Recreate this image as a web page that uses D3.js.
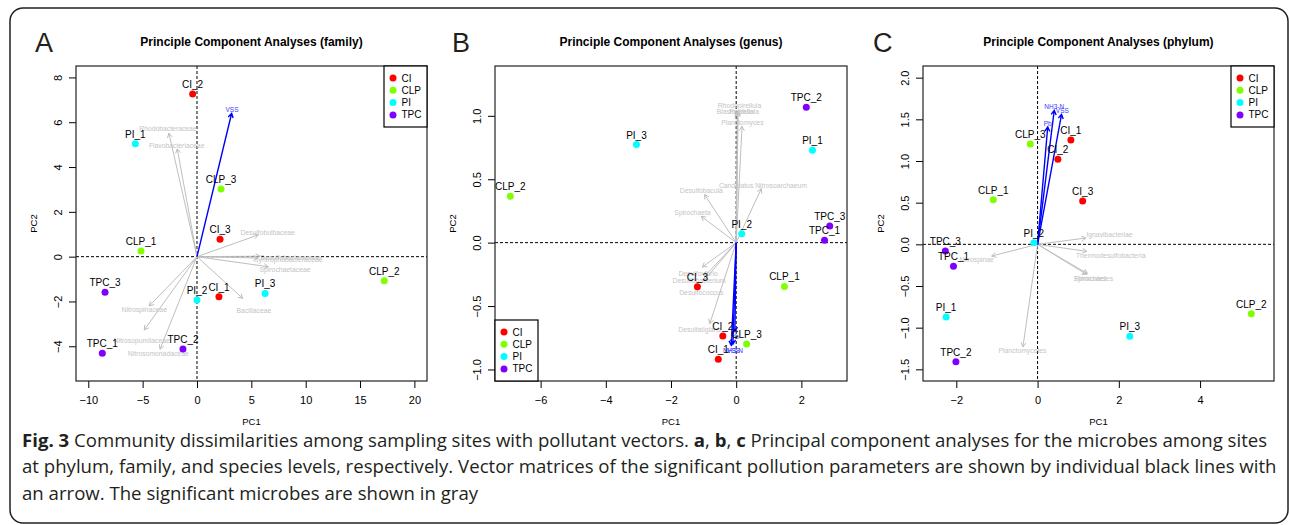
<!DOCTYPE html>
<html>
<head>
<meta charset="utf-8">
<script src="https://cdn.jsdelivr.net/npm/d3@7"></script>
<style>
body { margin: 0; background: #fff; }
svg { display: block; font-family: "Liberation Sans", Arial, Helvetica, sans-serif; }
</style>
</head>
<body>
<svg id="fig" width="1290" height="525"></svg>
<script>
/* groups, colours = rainbow(4) */
const groups = ["CI", "CLP", "PI", "TPC"];
const groupColors = ["#FF0000", "#80FF00", "#00FFFF", "#8000FF"];

/* A - family : [site, PC1, PC2] */
const famSites = [
	["CI_1", 2.02, -1.79], ["CI_2", -0.40, 7.26], ["CI_3", 2.12, 0.78],
	["CLP_1", -5.15, 0.25], ["CLP_2", 17.23, -1.07], ["CLP_3", 2.21, 3.02],
	["PI_1", -5.67, 5.04], ["PI_2", 0.0, -1.93], ["PI_3", 6.26, -1.64],
	["TPC_1", -8.71, -4.31], ["TPC_2", -1.29, -4.12], ["TPC_3", -8.46, -1.59]
];
/* [name, tipX, tipY, labelX, labelY] */
const famMicrobes = [
	["Rhodobacteraceae", -2.58, 5.51, -2.67, 5.70],
	["Flavobacteriaceae", -1.81, 4.81, -1.87, 4.97],
	["Desulfobulbaceae", 5.64, 0.97, 6.50, 1.09],
	["Desulfobacteraceae", 5.80, 0.02, 8.60, -0.05],
	["Syntrophobacteraceae", 5.60, -0.06, 8.40, -0.12],
	["Spirochaetaceae", 6.56, -0.45, 8.10, -0.59],
	["Bacillaceae", 4.20, -1.86, 5.24, -2.42],
	["Nitrospinaceae", -4.39, -2.20, -4.85, -2.35],
	["Nitrosopumilaceae", -4.85, -3.27, -5.09, -3.76],
	["Nitrosomonadaceae", -3.40, -4.13, -3.56, -4.34]
];
const famPollutants = [["VSS", 3.19, 6.40, 3.22, 6.55]];
const famXTicks = [-10, -5, 0, 5, 10, 15, 20];
const famYTicks = [-4, -2, 0, 2, 4, 6, 8];

/* B - genus */
const genSites = [
	["CI_1", -0.55, -0.92], ["CI_2", -0.41, -0.737], ["CI_3", -1.19, -0.347],
	["CLP_1", 1.48, -0.345], ["CLP_2", -6.93, 0.365], ["CLP_3", 0.32, -0.80],
	["PI_1", 2.34, 0.728], ["PI_2", 0.17, 0.071], ["PI_3", -3.06, 0.773],
	["TPC_1", 2.71, 0.018], ["TPC_2", 2.15, 1.067], ["TPC_3", 2.87, 0.131]
];
const genMicrobes = [
	["Rhodopirellula", 0.06, 1.04, 0.10, 1.08],
	["Blastopirellula", 0.03, 1.03, 0.05, 1.035],
	["Pirellula", 0.05, 1.03, 0.16, 1.035],
	["Planctomyces", 0.18, 0.917, 0.19, 0.946],
	["Candidatus Nitrosoarchaeum", 0.77, 0.426, 0.82, 0.446],
	["Desulfobacula", -0.97, 0.379, -1.07, 0.407],
	["Spirochaeta", -1.07, 0.207, -1.34, 0.233],
	["Desulfovibrio", -1.04, -0.192, -1.17, -0.245],
	["Desulfobacterium", -0.97, -0.266, -1.14, -0.297],
	["Desulfococcus", -0.99, -0.300, -1.07, -0.394],
	["Desulfatiglans", -0.81, -0.639, -1.12, -0.686]
];
const genPollutants = [
	["NH3-N", -0.15, -0.81, -0.10, -0.85],
	["VSS", -0.10, -0.80, -0.08, -0.85],
	["Pb", -0.04, -0.70, -0.05, -0.74]
];
const genXTicks = [-6, -4, -2, 0, 2];
const genYTicks = [-1.0, -0.5, 0.0, 0.5, 1.0];

/* C - phylum */
const phySites = [
	["CI_1", 0.82, 1.252], ["CI_2", 0.50, 1.02], ["CI_3", 1.11, 0.52],
	["CLP_1", -1.09, 0.536], ["CLP_2", 5.26, -0.832], ["CLP_3", -0.18, 1.204],
	["PI_1", -2.25, -0.872], ["PI_2", -0.09, 0.02], ["PI_3", 2.27, -1.104],
	["TPC_1", -2.07, -0.264], ["TPC_2", -2.01, -1.408], ["TPC_3", -2.27, -0.08]
];
const phyMicrobes = [
	["Ignavibacteriae", 1.19, 0.076, 1.77, 0.116],
	["Thermodesulfobacteria", 1.21, -0.084, 1.80, -0.136],
	["Spirochaetes", 1.23, -0.352, 1.37, -0.412],
	["Firmicutes", 1.20, -0.36, 1.30, -0.412],
	["Nitrospinae", -1.13, -0.14, -1.50, -0.18],
	["Planctomycetes", -0.36, -1.232, -0.37, -1.27]
];
const phyPollutants = [
	["Pb", 0.25, 1.408, 0.25, 1.45],
	["NH3-N", 0.41, 1.608, 0.41, 1.648],
	["VSS", 0.59, 1.56, 0.61, 1.60]
];
const phyXTicks = [-2, 0, 2, 4];
const phyYTicks = [-1.5, -1.0, -0.5, 0.0, 0.5, 1.0, 1.5, 2.0];

const captionLines = [
	[["Fig. 3", true], [" Community dissimilarities among sampling sites with pollutant vectors. ", false], ["a", true], [", ", false], ["b", true], [", ", false], ["c", true], [" Principal component analyses for the microbes among sites", false]],
	[["at phylum, family, and species levels, respectively. Vector matrices of the significant pollution parameters are shown by individual black lines with", false]],
	[["an arrow. The significant microbes are shown in gray", false]]
];
const captionWidth = 1246;

const svg = d3.select("#fig");
const color = d3.scaleOrdinal().domain(groups).range(groupColors);
const minus = s => s.replace("-", "\u2212");

/* outer frame */
svg.append("rect").attr("x", 10).attr("y", 8).attr("width", 1278).attr("height", 515)
	.attr("rx", 13).attr("fill", "none").attr("stroke", "#231f20").attr("stroke-width", 1.5);

function arrow(g, x, y, d, stroke, width) {
	const x0 = x(0), y0 = y(0), x1 = x(d[1]), y1 = y(d[2]);
	const a = Math.atan2(y1 - y0, x1 - x0), L = 5, h = Math.PI / 6;
	g.append("path")
		.attr("d", `M${x0},${y0}L${x1},${y1}M${x1 - L * Math.cos(a - h)},${y1 - L * Math.sin(a - h)}L${x1},${y1}L${x1 - L * Math.cos(a + h)},${y1 - L * Math.sin(a + h)}`)
		.attr("fill", "none").attr("stroke", stroke).attr("stroke-width", width);
}

function panel(cfg) {
	const [L, T, R, B] = cfg.box;
	const x = d3.scaleLinear().domain(cfg.xDomain).range([L, R]);
	const y = d3.scaleLinear().domain(cfg.yDomain).range([B, T]);
	const g = svg.append("g");

	// axes
	const fmt = cfg.yFmt;
	g.append("g").attr("transform", `translate(0,${B})`)
		.call(d3.axisBottom(x).tickValues(cfg.xTicks).tickSize(7).tickFormat(d => minus(String(d))))
		.call(a => a.select(".domain").remove())
		.call(a => a.selectAll("text").attr("y", 23).attr("dy", 0).attr("font-size", 11).attr("fill", "#000").attr("font-family", null));
	g.append("g").attr("transform", `translate(${L},0)`)
		.call(d3.axisLeft(y).tickValues(cfg.yTicks).tickSize(7).tickFormat(d => minus(fmt(d))))
		.call(a => a.select(".domain").remove())
		.call(a => a.selectAll("text").attr("transform", "rotate(-90)").attr("x", 0).attr("y", -14).attr("dy", 0)
			.attr("text-anchor", "middle").attr("font-size", 11).attr("fill", "#000").attr("font-family", null));
	g.selectAll(".tick line").attr("stroke", "#000");

	// reference lines
	g.append("line").attr("x1", L).attr("x2", R).attr("y1", y(0)).attr("y2", y(0))
		.attr("stroke", "#000").attr("stroke-dasharray", "3,2");
	g.append("line").attr("x1", x(0)).attr("x2", x(0)).attr("y1", T).attr("y2", B)
		.attr("stroke", "#000").attr("stroke-dasharray", "3,2");

	// microbes (gray) and pollutants (blue)
	cfg.microbes.forEach(d => arrow(g, x, y, d, "#bebebe", 1));
	g.selectAll(".mlab").data(cfg.microbes).join("text").attr("class", "mlab")
		.attr("x", d => x(d[3])).attr("y", d => y(d[4])).attr("dy", "0.35em")
		.attr("text-anchor", "middle").attr("font-size", 6.8).attr("fill", "#c4c4c4").text(d => d[0]);
	cfg.pollutants.forEach(d => arrow(g, x, y, d, "#0000ff", 1.4));
	g.selectAll(".plab").data(cfg.pollutants).join("text").attr("class", "plab")
		.attr("x", d => x(d[3])).attr("y", d => y(d[4])).attr("dy", "0.35em")
		.attr("text-anchor", "middle").attr("font-size", 6.5).attr("fill", "#3a3aff").text(d => d[0]);

	// sites
	g.selectAll(".site").data(cfg.sites).join("circle").attr("class", "site")
		.attr("cx", d => x(d[1])).attr("cy", d => y(d[2])).attr("r", 3.5)
		.attr("fill", d => color(d[0].split("_")[0]));
	g.selectAll(".slab").data(cfg.sites).join("text").attr("class", "slab")
		.attr("x", d => x(d[1])).attr("y", d => y(d[2]) - 6)
		.attr("text-anchor", "middle").attr("font-size", 10).attr("fill", "#000").text(d => d[0]);

	// box
	g.append("rect").attr("x", L).attr("y", T).attr("width", R - L).attr("height", B - T)
		.attr("fill", "none").attr("stroke", "#222").attr("stroke-width", 1.2);

	// legend
	const lx = cfg.legendLeft ? L : R - 43;
	const ly = cfg.legendLeft ? B - 61 : T;
	const lg = g.append("g").attr("transform", `translate(${lx},${ly})`);
	lg.append("rect").attr("width", 43).attr("height", 61).attr("fill", "#fff").attr("stroke", "#000").attr("stroke-width", 1.2);
	groups.forEach((k, i) => {
		lg.append("circle").attr("cx", 9).attr("cy", 12 + i * 12.3).attr("r", 3.5).attr("fill", color(k));
		lg.append("text").attr("x", 17.5).attr("y", 12 + i * 12.3).attr("dy", "0.35em").attr("font-size", 10).text(k);
	});

	// titles
	const cx = (L + R) / 2;
	svg.append("text").attr("x", cx).attr("y", 46).attr("text-anchor", "middle")
		.attr("font-size", 12).attr("font-weight", "bold").text(cfg.title);
	svg.append("text").attr("x", cx).attr("y", 425).attr("text-anchor", "middle").attr("font-size", 9.5).text("PC1");
	svg.append("text").attr("transform", `translate(${L - 39.5},${(T + B) / 2}) rotate(-90)`)
		.attr("text-anchor", "middle").attr("font-size", 9.5).text("PC2");
	svg.append("text").attr("x", cfg.letterX).attr("y", 52).attr("font-size", 27).attr("fill", "#231f20").text(cfg.letter);
}

panel({
	box: [76, 66, 427, 381], xDomain: [-11.13, 21.16], yDomain: [-5.55, 8.51],
	xTicks: famXTicks, yTicks: famYTicks, yFmt: d3.format("d"),
	sites: famSites, microbes: famMicrobes, pollutants: famPollutants,
	title: "Principle Component Analyses (family)", letter: "A", letterX: 35, legendLeft: false
});
panel({
	box: [495, 66, 847, 381], xDomain: [-7.40, 3.40], yDomain: [-1.091, 1.393],
	xTicks: genXTicks, yTicks: genYTicks, yFmt: d3.format(".1f"),
	sites: genSites, microbes: genMicrobes, pollutants: genPollutants,
	title: "Principle Component Analyses (genus)", letter: "B", letterX: 452, legendLeft: true
});
panel({
	box: [923, 66, 1274, 381], xDomain: [-2.82, 5.82], yDomain: [-1.64, 2.14],
	xTicks: phyXTicks, yTicks: phyYTicks, yFmt: d3.format(".1f"),
	sites: phySites, microbes: phyMicrobes, pollutants: phyPollutants,
	title: "Principle Component Analyses (phylum)", letter: "C", letterX: 873, legendLeft: false
});

/* caption: condensed by one horizontal factor fitted on the first line */
const capTexts = captionLines.map((line, i) => {
	const t = svg.append("text").attr("y", 447 + i * 26.5)
		.attr("font-family", "'Open Sans', sans-serif").attr("font-size", 18.5).attr("fill", "#231f20");
	line.forEach(([s, b]) => t.append("tspan").attr("font-weight", b ? "bold" : null).text(s));
	return t;
});
const k = captionWidth / capTexts[0].node().getComputedTextLength();
capTexts.forEach(t => t.attr("transform", `translate(22,0) scale(${k},1)`));
</script>
</body>
</html>
